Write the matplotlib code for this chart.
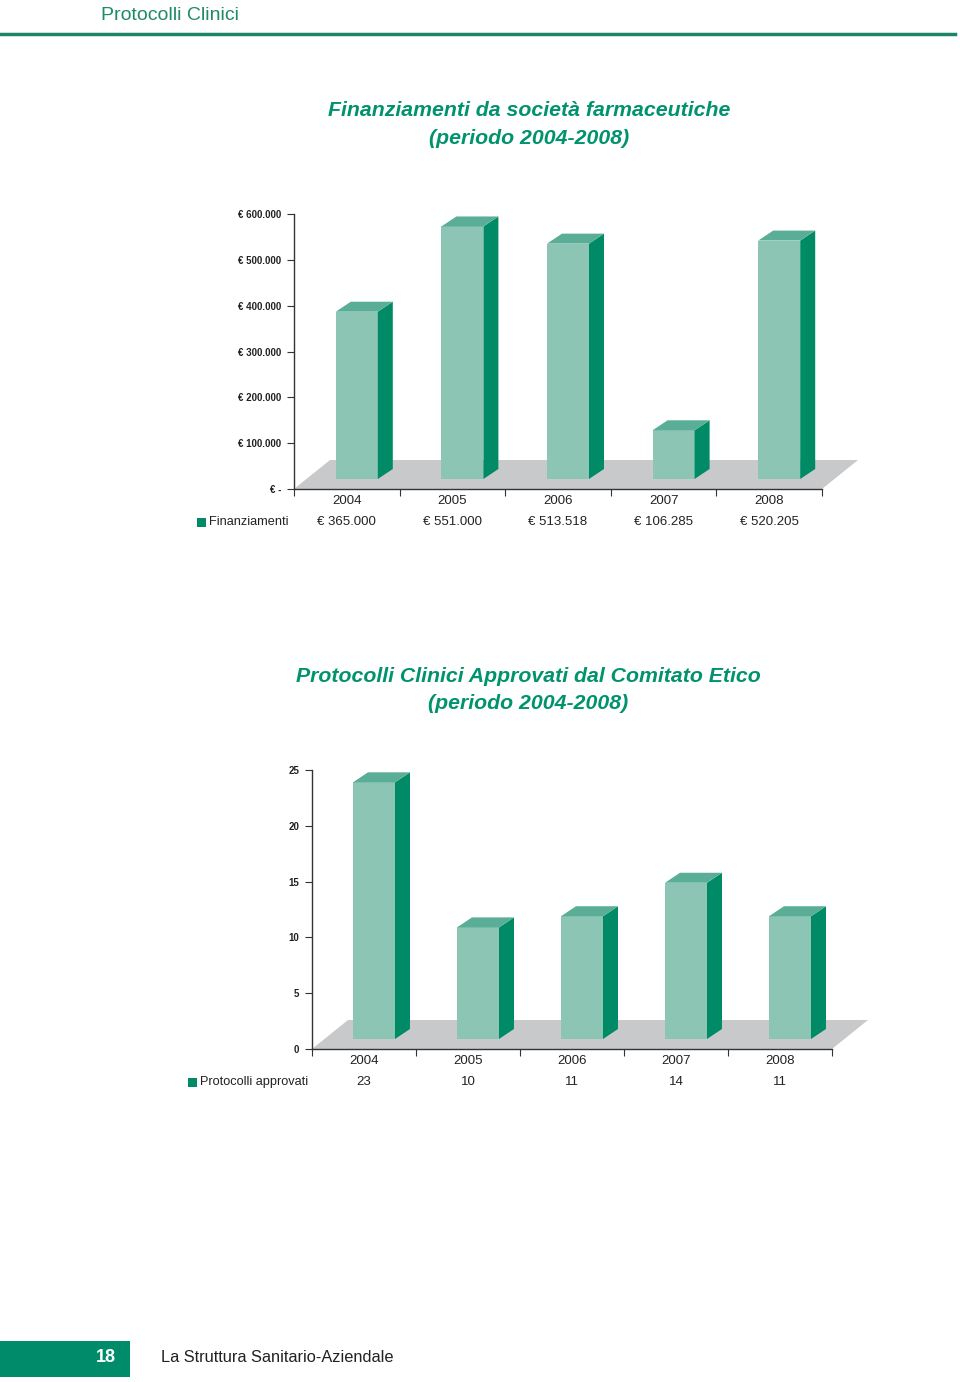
import numpy as np
import matplotlib.pyplot as plt
from matplotlib.patches import Rectangle, Polygon

plt.rcParams['font.family'] = ['Liberation Sans', 'DejaVu Sans']

# data
years = ['2004', '2005', '2006', '2007', '2008']
finanziamenti = [365000, 551000, 513518, 106285, 520205]
fin_ticks = [0, 100000, 200000, 300000, 400000, 500000, 600000]
protocolli = [23, 10, 11, 14, 11]
prot_ticks = [0, 5, 10, 15, 20, 25]

W, H = 960, 1382
GREEN = '#00936d'
DARK = '#008a66'
FRONT = '#8dc5b5'
TOP = '#5aae97'
FLOOR = '#c8c9cb'

fig = plt.figure(figsize=(W / 100, H / 100), dpi=100)


def ftxt(x, y, s, **kw):
    # place text using pixel coords from top-left
    fig.text(x / W, 1 - y / H, s, **kw)


def euro(v):
    if v == 0:
        return '€ -'
    return '€ ' + f'{v:,.0f}'.replace(',', '.')


def chart(left, right, y0, ytop, vals, ticks, ticklabels, legend, vlabels, leg_x):
    ax = fig.add_axes([left / W, 1 - y0 / H, (right - left) / W, (y0 - ytop) / H])
    n = len(vals)
    ax.set_xlim(0, n)
    ax.set_ylim(0, ticks[-1])
    px = n / (right - left)          # data units per pixel in x
    py = ticks[-1] / (y0 - ytop)     # data units per pixel in y

    # floor
    fdx, fdy = 36 * px, 29 * py
    ax.add_patch(Polygon([(0, 0), (n, 0), (n + fdx, fdy), (fdx, fdy)],
                         closed=True, fc=FLOOR, ec='none', clip_on=False, zorder=1))

    # 3d bars
    bw = 42 * px
    ox, oy = 10 * px, 10 * py
    sdx, sdy = 15 * px, 10 * py
    for i, v in enumerate(vals):
        x0 = i + 0.5 - bw / 2 + ox
        x1 = x0 + bw
        ax.add_patch(Rectangle((x0, oy), bw, v, fc=FRONT, ec='none',
                               clip_on=False, zorder=3))
        ax.add_patch(Polygon([(x1, oy), (x1 + sdx, oy + sdy), (x1 + sdx, oy + v + sdy),
                              (x1, oy + v)], fc=DARK, ec='none', clip_on=False, zorder=3))
        ax.add_patch(Polygon([(x0, oy + v), (x1, oy + v), (x1 + sdx, oy + v + sdy),
                              (x0 + sdx, oy + v + sdy)], fc=TOP, ec='none',
                             clip_on=False, zorder=3))

    for s in ['top', 'right']:
        ax.spines[s].set_visible(False)
    for s in ['left', 'bottom']:
        ax.spines[s].set_color('#333333')
        ax.spines[s].set_linewidth(1.0)
    ax.spines['left'].set_zorder(4)

    ax.set_yticks(ticks)
    ax.set_yticklabels(ticklabels, fontsize=7, fontweight='bold', color='#222222')
    ax.tick_params(axis='y', length=5, width=0.8, pad=4, color='#333333')
    ax.set_xticks(np.arange(n + 1))
    ax.set_xticklabels([])
    ax.tick_params(axis='x', length=5, width=0.8, color='#333333')
    ax.set_xticks(np.arange(n) + 0.5, minor=True)
    ax.set_xticklabels(years, minor=True, fontsize=9.5, color='#222222')
    ax.tick_params(axis='x', which='minor', length=0, pad=4)
    ax.set_facecolor('none')

    for i, s in enumerate(vlabels):
        ax.annotate(s, xy=(i + 0.5, 0), xycoords=('data', 'axes fraction'),
                    xytext=(0, -33 * 0.72), textcoords='offset points',
                    ha='center', va='center', fontsize=9.5, color='#222222')
    # legend key of the data table
    ty = y0 + 33
    fig.patches.append(Rectangle((leg_x / W, 1 - (ty + 4.5) / H), 9 / W, 9 / H,
                                 transform=fig.transFigure, fc=DARK, ec='none'))
    ftxt(leg_x + 12, ty, legend, ha='left', va='center', fontsize=9.2, color='#222222')
    return ax


# header
ftxt(101, 15, 'Protocolli Clinici', fontsize=14, color='#1f8a68', va='center', ha='left')
fig.add_artist(plt.Line2D([0, 955 / W], [1 - 34 / H] * 2, color='#1d8366', lw=2.5))

# chart 1
ftxt(529, 110, 'Finanziamenti da società farmaceutiche', fontsize=15.3, style='italic',
     fontweight='bold', color=GREEN, ha='center', va='center')
ftxt(529, 138, '(periodo 2004-2008)', fontsize=15.3, style='italic',
     fontweight='bold', color=GREEN, ha='center', va='center')
chart(294, 822, 489, 214, finanziamenti, fin_ticks, [euro(t) for t in fin_ticks],
      'Finanziamenti', [euro(v) for v in finanziamenti], 197)

# chart 2
ftxt(528, 676, 'Protocolli Clinici Approvati dal Comitato Etico', fontsize=15.3,
     style='italic', fontweight='bold', color=GREEN, ha='center', va='center')
ftxt(528, 704, '(periodo 2004-2008)', fontsize=15.3, style='italic',
     fontweight='bold', color=GREEN, ha='center', va='center')
chart(312, 832, 1049, 770, protocolli, prot_ticks, [str(t) for t in prot_ticks],
      'Protocolli approvati', [str(v) for v in protocolli], 188)

# footer
fig.patches.append(Rectangle((0, 1 - 1377 / H), 130 / W, 36 / H,
                             transform=fig.transFigure, fc='#008c6a', ec='none'))
ftxt(106, 1357, '18', fontsize=13, fontweight='bold', color='white', ha='center', va='center')
ftxt(161, 1357, 'La Struttura Sanitario-Aziendale', fontsize=11.8, color='#222222',
     ha='left', va='center')

fig.savefig('out.png', dpi=100)
